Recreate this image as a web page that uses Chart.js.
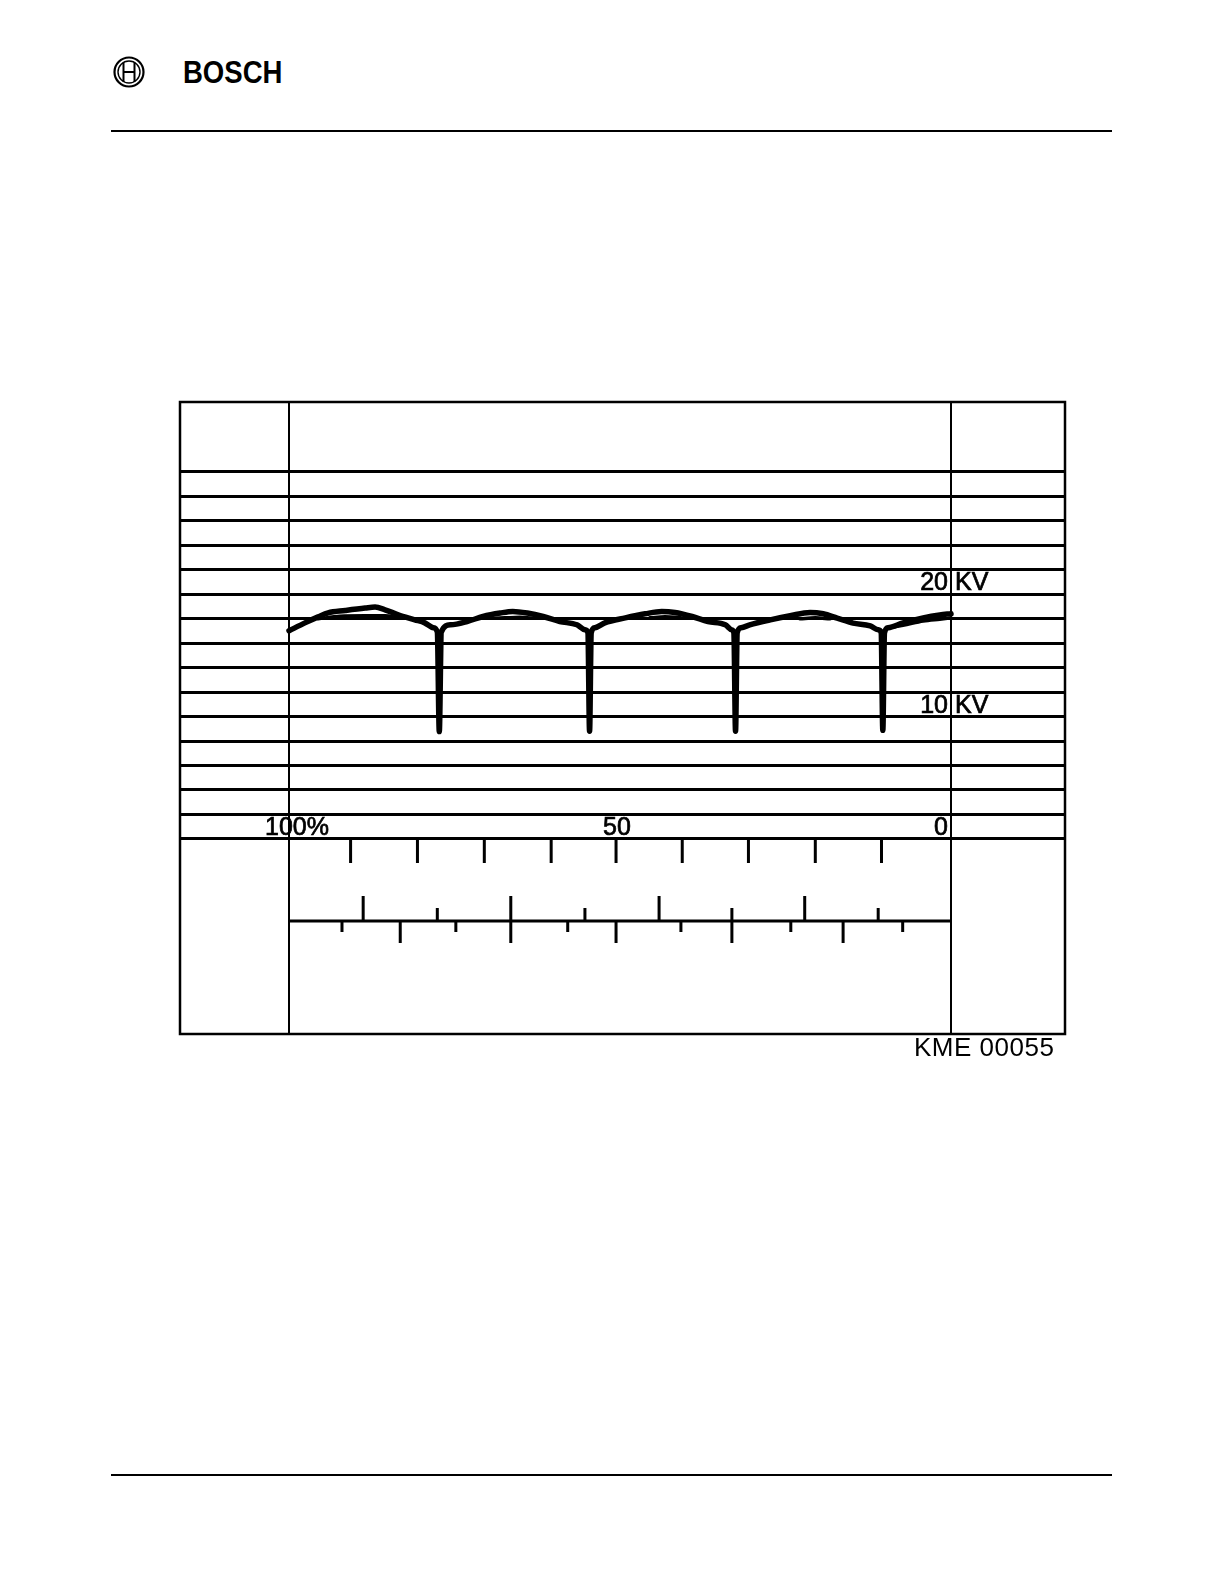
<!DOCTYPE html>
<html>
<head>
<meta charset="utf-8">
<script src="https://cdn.jsdelivr.net/npm/chart.js@4.4.0/dist/chart.umd.min.js"></script>
<style>
  html, body { margin: 0; padding: 0; background: #fff; }
  body { width: 1224px; height: 1584px; position: relative; overflow: hidden; font-family: 'Liberation Sans', Arial, sans-serif; color: #000; }
  .rule { position: absolute; left: 111px; width: 1001px; height: 2px; background: #000; }
  #logo { position: absolute; left: 113px; top: 56px; }
  #brand { position: absolute; left: 183px; top: 56px; font-size: 32px; line-height: 32px; font-weight: bold; transform: scaleX(0.86); transform-origin: left top; }
  #chartBox { position: absolute; left: 170px; top: 390px; }
  #code { position: absolute; left: 914px; top: 1034px; font-size: 26px; line-height: 26px; letter-spacing: 0.5px; }
</style>
</head>
<body>
<svg id="logo" width="32" height="32" viewBox="-16 -16 32 32">
  <circle r="14.5" fill="none" stroke="#000" stroke-width="2.2"/>
  <circle r="11" fill="none" stroke="#000" stroke-width="1.4"/>
  <line x1="-5.5" y1="-9.5" x2="-5.5" y2="9.5" stroke="#000" stroke-width="2"/>
  <line x1="5.5" y1="-9.5" x2="5.5" y2="9.5" stroke="#000" stroke-width="2"/>
  <line x1="-5.5" y1="0" x2="5.5" y2="0" stroke="#000" stroke-width="2"/>
</svg>
<div id="brand">BOSCH</div>
<div class="rule" style="top:130px"></div>
<div id="chartBox"><canvas id="scope" width="905" height="655"></canvas></div>
<div id="code">KME 00055</div>
<div class="rule" style="top:1474px"></div>

<script>
// ignition voltage trace, x = percent of dwell scale (100 -> 0), y = kV
const tracePct = [100, 97.6, 95.6, 94.1, 91.5, 88.5, 87.0, 85.5, 83.5, 81.0, 79.5, 78.2, 77.6, 77.3, 77.0,
  75.6, 73.1, 70.7, 68.1, 66.2, 64.0, 61.6, 59.1, 56.5, 55.3, 54.85, 54.6, 54.35,
  53.8, 52.3, 49.2, 46.2, 43.7, 41.7, 39.1, 36.7, 34.1, 33.1, 32.8, 32.55, 32.3,
  31.7, 30.4, 27.3, 24.3, 21.3, 19.3, 17.2, 14.8, 12.2, 11.0, 10.55, 10.3, 10.05,
  9.5, 7.25, 4.2, 1.7, 0];
const traceKv = [17.0, 17.65, 18.14, 18.47, 18.66, 18.86, 18.94, 18.72, 18.31, 17.90, 17.65, 17.25, 16.9, 8.77, 16.9,
  17.49, 17.76, 18.17, 18.45, 18.58, 18.45, 18.17, 17.76, 17.49, 17.08, 16.84, 8.79, 16.84,
  17.25, 17.65, 18.06, 18.39, 18.58, 18.50, 18.17, 17.76, 17.49, 17.08, 16.84, 8.79, 16.84,
  17.25, 17.49, 17.90, 18.23, 18.50, 18.39, 18.04, 17.63, 17.41, 17.08, 16.84, 8.87, 16.84,
  17.25, 17.65, 18.06, 18.30, 18.40];

// second (lower) strand of the doubled trace on the humps
const strandPct = [95.6, 92.3, 88.5, 85.5, 83.5, null, 69.6, 67.4, 65.1, 62.8, null, 45.5, 43.2, 40.9, null, 22.8, 20.5, 18.3, null, 9.5, 7.25, 4.2, 1.7, 0];
const strandKv = [17.98, 18.19, 18.23, 18.23, 18.06, null, 18.02, 18.06, 18.10, 18.02, null, 18.06, 18.14, 18.10, null, 17.98, 18.06, 17.98, null, 17.25, 17.45, 17.8, 17.95, 18.05];

// horizontal graticule, kV
const kvGrid = [0, 2, 4, 6, 8, 10, 12, 14, 16, 18, 20, 22, 24, 26, 28, 30];
const kvLabels = [20, 10];
const pctLines = [100, 0];
const pctLabels = [100, 50, 0];
const pctLabelText = ['100%', '50', '0'];

// scales below the screen, in percent
const scaleTicks = [90.7, 80.6, 70.5, 60.4, 50.6, 40.6, 30.6, 20.5, 10.5];
const firingLong = [88.8, 66.5, 44.1, 22.1];
const firingShort = [77.6, 55.3, 33.1, 11.0];
const degLong = [83.2, 66.5, 50.6, 33.1, 16.3];
const degShort = [92.0, 74.8, 57.9, 40.8, 24.2, 7.3];
const scaleLineKv = -6.70;

function points(xs, ys) {
  return xs.map((x, i) => ({ x: x, y: ys[i] }));
}
function tickSegs(xs, y0, y1) {
  const out = [];
  xs.forEach(x => { out.push({ x: x, y: y0 }, { x: x, y: y1 }, { x: x, y: null }); });
  return out;
}
function seg(data, w) {
  return { data: data, showLine: true, borderColor: '#000', borderWidth: w, pointRadius: 0, borderCapStyle: 'butt', spanGaps: false };
}

const frame = {
  id: 'frame',
  afterDraw(chart) {
    const { ctx, chartArea: a, scales: { x, y } } = chart;
    ctx.save();
    ctx.strokeStyle = '#000';
    ctx.lineWidth = 2.5;
    ctx.strokeRect(a.left, a.top, a.right - a.left, a.bottom - a.top);
    ctx.fillStyle = '#000';
    ctx.lineWidth = 0.7;
    ctx.font = '25px "Liberation Sans", Arial, sans-serif';
    ctx.textBaseline = 'alphabetic';
    const put = (t, px, py) => { ctx.fillText(t, px, py); ctx.strokeText(t, px, py); };
    const x0 = x.getPixelForValue(0);
    kvLabels.forEach(v => {
      const py = y.getPixelForValue(v) - 4;
      ctx.textAlign = 'right';
      put(String(v), x0 - 3, py);
      ctx.textAlign = 'left';
      put('KV', x0 + 4, py);
    });
    const aligns = [['center', 8], ['center', -3], ['right', -3]];
    pctLabels.forEach((p, i) => {
      ctx.textAlign = aligns[i][0];
      put(pctLabelText[i], x.getPixelForValue(p) + aligns[i][1], y.getPixelForValue(0) - 4);
    });
    ctx.restore();
  }
};

new Chart(document.getElementById('scope'), {
  type: 'scatter',
  data: {
    datasets: [
      Object.assign(seg(points(tracePct, traceKv), 5.5), { cubicInterpolationMode: 'monotone', borderCapStyle: 'round', borderJoinStyle: 'round' }),
      Object.assign(seg(points(strandPct, strandKv), 3.5), { cubicInterpolationMode: 'monotone', borderCapStyle: 'round' }),
      seg([{ x: 100, y: scaleLineKv }, { x: 0, y: scaleLineKv }], 3),
      seg(tickSegs(scaleTicks, 0, -1.96), 3),
      seg(tickSegs(firingLong, -4.66, scaleLineKv), 3),
      seg(tickSegs(firingShort, -5.64, scaleLineKv), 3),
      seg(tickSegs(degLong, scaleLineKv, -8.50), 3),
      seg(tickSegs(degShort, scaleLineKv, -7.60), 3)
    ]
  },
  options: {
    responsive: false,
    animation: false,
    layout: { padding: { left: 10, top: 12, right: 10, bottom: 11 } },
    plugins: { legend: { display: false }, tooltip: { enabled: false } },
    scales: {
      x: {
        type: 'linear', reverse: true, min: -17.22, max: 116.47,
        afterBuildTicks: s => { s.ticks = pctLines.map(v => ({ value: v })); },
        ticks: { display: false },
        grid: { color: '#000', lineWidth: 2, drawTicks: false },
        border: { display: false }
      },
      y: {
        type: 'linear', min: -15.93, max: 35.69,
        afterBuildTicks: s => { s.ticks = kvGrid.map(v => ({ value: v })); },
        ticks: { display: false },
        grid: { color: '#000', lineWidth: 3, drawTicks: false },
        border: { display: false }
      }
    }
  },
  plugins: [frame]
});
</script>
</body>
</html>
